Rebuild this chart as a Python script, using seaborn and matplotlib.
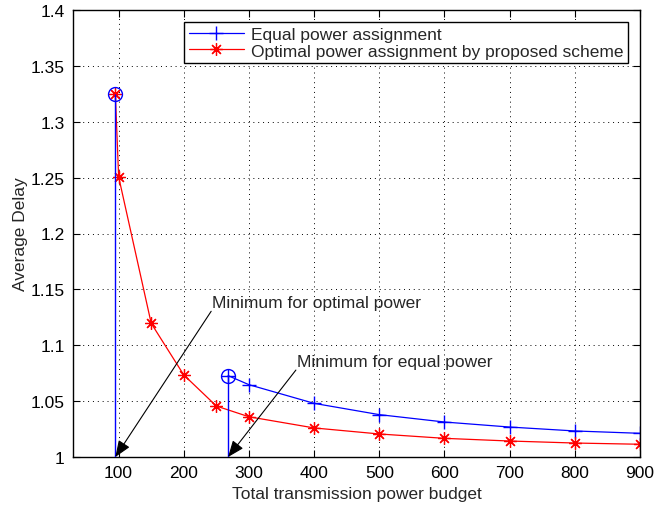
import matplotlib
matplotlib.use("Agg")
import matplotlib.pyplot as plt
import seaborn as sns
import numpy as np

# Data
eq_x = [268, 300, 400, 500, 600, 700, 800, 900]
eq_y = [1.0728, 1.0647, 1.048, 1.0379, 1.0313, 1.0268, 1.0233, 1.0212]
opt_x = [95, 100, 150, 200, 250, 300, 400, 500, 600, 700, 800, 900]
opt_y = [1.325, 1.2508, 1.1196, 1.0734, 1.0456, 1.036, 1.026, 1.0206, 1.0167, 1.0143, 1.0125, 1.0114]
min_x = [95, 268]
min_y = [1.325, 1.0728]
x_ticks = [100, 200, 300, 400, 500, 600, 700, 800, 900]
y_ticks = [1.0, 1.05, 1.1, 1.15, 1.2, 1.25, 1.3, 1.35, 1.4]
y_tick_labels = ["1", "1.05", "1.1", "1.15", "1.2", "1.25", "1.3", "1.35", "1.4"]

sns.set_style("white")
plt.rcParams['font.family'] = ['Liberation Sans', 'DejaVu Sans']

FS = 12.5

fig = plt.figure(figsize=(6.54, 5.06), dpi=100)
ax = fig.add_axes([73/654, 1 - 458/506, (640 - 73)/654, (458 - 11)/506])

sns.lineplot(x=eq_x, y=eq_y, ax=ax, color="blue", marker="+", markersize=10,
             mec="blue", mew=1.0, lw=0.9, label="Equal power assignment", sort=False)
sns.lineplot(x=opt_x, y=opt_y, ax=ax, color="red", marker=(8, 2, 0), markersize=9,
             mec="red", mfc="red", mew=0.9, lw=0.9,
             label="Optimal power assignment by proposed scheme", sort=False)

ax.vlines(min_x, 1.0, min_y, colors="blue", lw=1.0, zorder=3)
ax.plot(min_x, min_y, ls="none", marker="o", markersize=10, mfc="none",
        mec="blue", mew=1.0, zorder=4)

ax.set_xlim(30, 900)
ax.set_ylim(1.0, 1.4)
ax.set_xticks(x_ticks)
ax.set_yticks(y_ticks)
ax.set_yticklabels(y_tick_labels)
ax.tick_params(direction="in", length=5, width=0.8, top=True, right=True,
               bottom=True, left=True, labelsize=FS, pad=6, colors="black")
ax.grid(True, color="black", ls=(0, (1, 4)), lw=0.7)
for s in ax.spines.values():
    s.set_color("black")
    s.set_linewidth(1.0)

ax.set_xlabel("Total transmission power budget", fontsize=FS, labelpad=4)
ax.set_ylabel("Average Delay", fontsize=FS, labelpad=2)

arrowprops = dict(arrowstyle="-|>,head_length=1.0,head_width=0.4", color="black",
                  lw=0.8, shrinkA=0, shrinkB=0)
ax.annotate("", xy=(95, 1.0), xytext=(242, 1.1304), arrowprops=arrowprops, zorder=5)
ax.annotate("", xy=(268, 1.0), xytext=(372, 1.0778), arrowprops=arrowprops, zorder=5)
ax.text(243, 1.1342, "Minimum for optimal power", fontsize=FS, ha="left", va="baseline")
ax.text(374, 1.0817, "Minimum for equal power", fontsize=FS, ha="left", va="baseline")

leg = ax.legend(loc="upper right", fontsize=FS, frameon=True, fancybox=False,
                handlelength=3.2, borderpad=0.25, labelspacing=0.1,
                handletextpad=0.4, borderaxespad=0.7)
leg.get_frame().set_edgecolor("black")
leg.get_frame().set_linewidth(1.0)
leg.get_frame().set_alpha(1)

fig.savefig("out.png", dpi=100)
